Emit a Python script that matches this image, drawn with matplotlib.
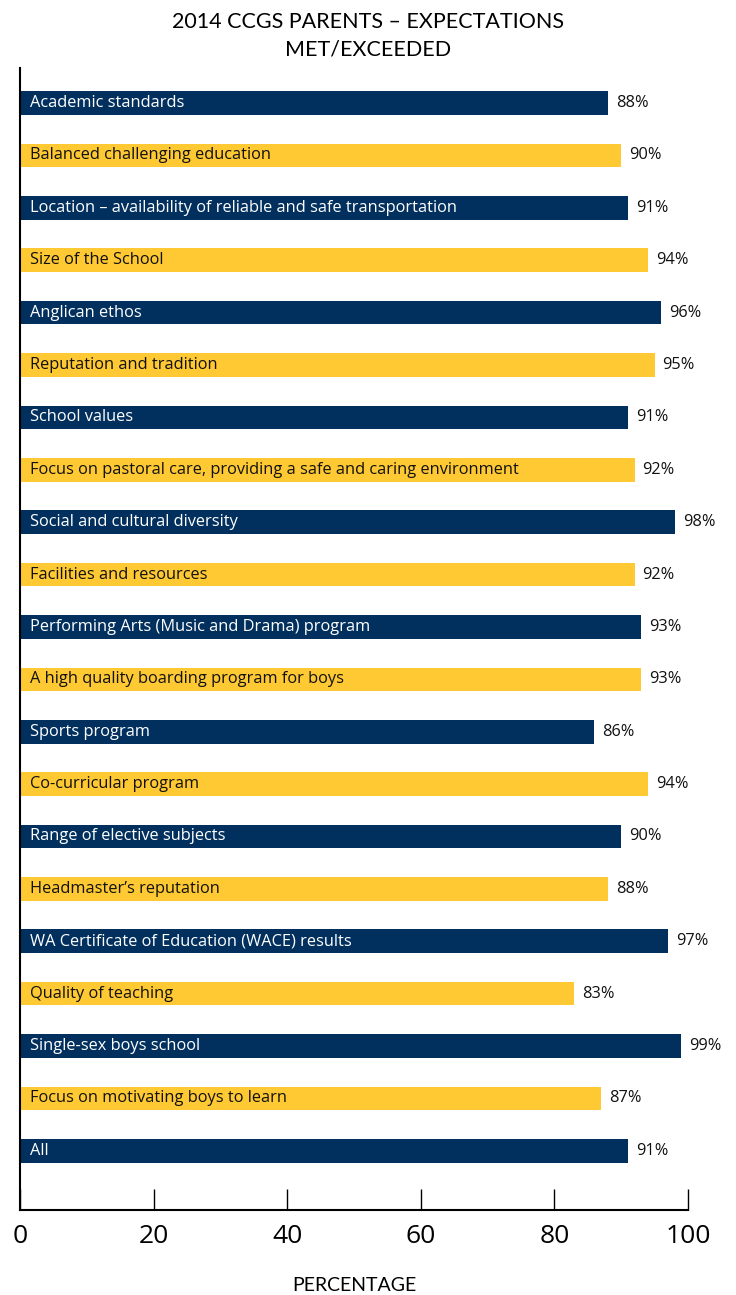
import matplotlib
matplotlib.use("Agg")
import matplotlib.pyplot as plt
import numpy as np

plt.rcParams["font.family"] = ["Open Sans", "DejaVu Sans"]

# data
categories = [
    "Academic standards",
    "Balanced challenging education",
    "Location \u2013 availability of reliable and safe transportation",
    "Size of the School",
    "Anglican ethos",
    "Reputation and tradition",
    "School values",
    "Focus on pastoral care, providing a safe and caring environment",
    "Social and cultural diversity",
    "Facilities and resources",
    "Performing Arts (Music and Drama) program",
    "A high quality boarding program for boys",
    "Sports program",
    "Co-curricular program",
    "Range of elective subjects",
    "Headmaster\u2019s reputation",
    "WA Certificate of Education (WACE) results",
    "Quality of teaching",
    "Single-sex boys school",
    "Focus on motivating boys to learn",
    "All",
]
values = [88, 90, 91, 94, 96, 95, 91, 92, 98, 92, 93, 93, 86, 94, 90, 88, 97, 83, 99, 87, 91]
x_ticks = [0, 20, 40, 60, 80, 100]

NAVY = "#02305e"
GOLD = "#ffc933"
LATO = ["Lato", "DejaVu Sans"]

fig = plt.figure(figsize=(7.36, 12.95), dpi=100)
ax = fig.add_axes([20 / 736, 85 / 1295, 668 / 736, 1142 / 1295])

y = np.arange(len(categories))
colors = [NAVY if i % 2 == 0 else GOLD for i in range(len(categories))]
ax.barh(y, values, height=0.45, color=colors, edgecolor="none")

for i, (cat, val) in enumerate(zip(categories, values)):
    txt_color = "white" if i % 2 == 0 else "#111111"
    ax.text(1.5, i, cat, va="center", ha="left", color=txt_color, fontsize=11.8)
    ax.text(val + 1.2, i, f"{val}%", va="center", ha="left", color="#111111", fontsize=11.8)

ax.set_xlim(0, 100)
ax.set_ylim(len(categories) - 1 + 1.13, -0.67)
ax.set_yticks([])
ax.set_xticks(x_ticks)
ax.tick_params(axis="x", direction="in", length=15, width=1, labelsize=19, pad=10)
for s in ["top", "right"]:
    ax.spines[s].set_visible(False)
for s in ["left", "bottom"]:
    ax.spines[s].set_linewidth(1.5)

ax.set_xlabel("PERCENTAGE", fontsize=14, labelpad=20, family=LATO)
fig.suptitle("2014 CCGS PARENTS \u2013 EXPECTATIONS\nMET/EXCEEDED", fontsize=15.5, y=0.991,
             va="top", linespacing=1.5, family=LATO)

fig.savefig("out.png", dpi=100)
